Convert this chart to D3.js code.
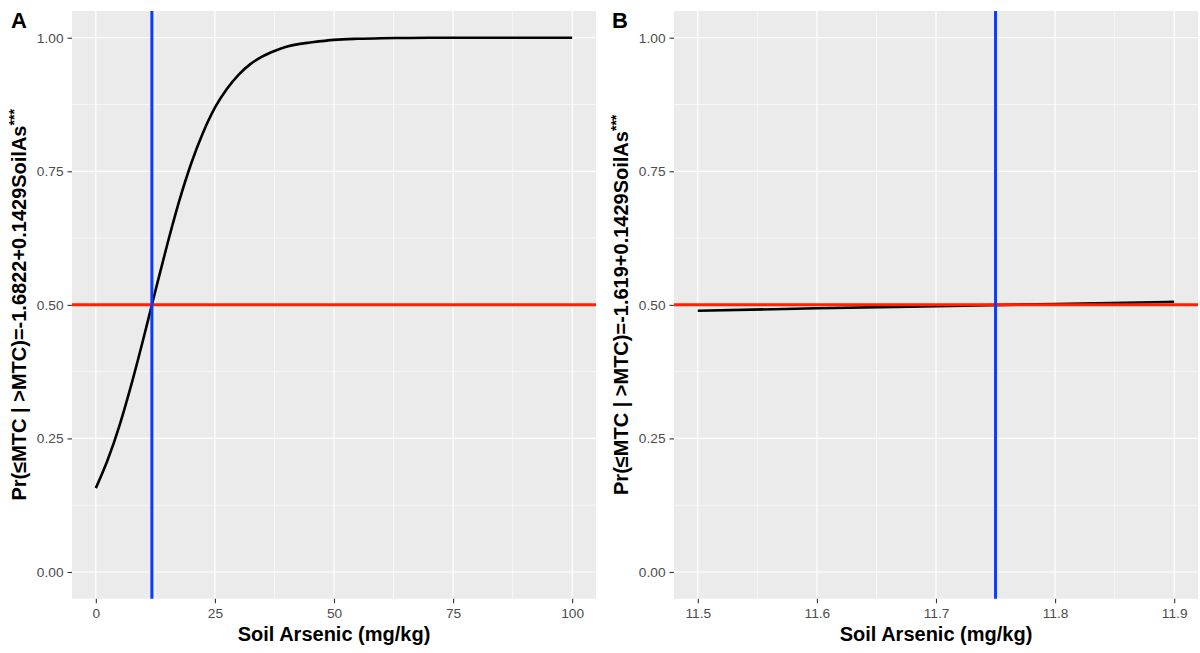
<!DOCTYPE html>
<html>
<head>
<meta charset="utf-8">
<script src="https://cdn.jsdelivr.net/npm/d3@7"></script>
<style>
  html, body { margin: 0; padding: 0; background: #fff; }
  svg { display: block; font-family: "Liberation Sans", Arial, Helvetica, sans-serif; }
</style>
</head>
<body>
<svg id="chart" width="1200" height="653"></svg>
<script>
// Panel A: fitted probability across the full soil arsenic range
const soilAsA = [0, 2.5, 5, 7.5, 10, 12.5, 15, 17.5, 20, 22.5, 25, 27.5, 30, 32.5, 35, 37.5, 40, 42.5, 45, 50, 55, 60, 65, 70, 80, 90, 100];
const probA   = [0.157, 0.210, 0.275, 0.352, 0.437, 0.526, 0.613, 0.694, 0.764, 0.822, 0.869, 0.904, 0.931, 0.951, 0.965, 0.975, 0.983, 0.988, 0.991, 0.996, 0.998, 0.999, 0.9995, 0.9998, 1.0, 1.0, 1.0];
// Panel B: fitted probability over a narrow range around the threshold
const soilAsB = [11.5, 11.6, 11.7, 11.8, 11.9];
const probB   = [0.489, 0.4935, 0.4976, 0.5017, 0.5057];

const thresholdA = 11.77;
const thresholdB = 11.75;
const refProb = 0.5;

const yTicks = [0, 0.25, 0.5, 0.75, 1];
const yTickLabels = ["0.00", "0.25", "0.50", "0.75", "1.00"];
const xTicksA = [0, 25, 50, 75, 100];
const xTicksB = [11.5, 11.6, 11.7, 11.8, 11.9];
const xTickLabelsB = ["11.5", "11.6", "11.7", "11.8", "11.9"];

const panels = [
  { tag: "A", xs: soilAsA, ys: probA, vline: thresholdA, xDomain: [0, 100], xExpand: 0.05,
    xTicks: xTicksA, xLabels: xTicksA.map(String), left: 72, right: 596,
    yTitle: "Pr(\u2264MTC | >MTC)=-1.6822+0.1429SoilAs", tagX: 11, titleX: 25.5 },
  { tag: "B", xs: soilAsB, ys: probB, vline: thresholdB, xDomain: [11.5, 11.9], xExpand: 0.05,
    xTicks: xTicksB, xLabels: xTickLabelsB, left: 674, right: 1198,
    yTitle: "Pr(\u2264MTC | >MTC)=-1.619+0.1429SoilAs", tagX: 612, titleX: 628 }
];

const svg = d3.select("#chart");
const plotTop = 11, plotBottom = 598.7;

panels.forEach(p => {
  const span = p.xDomain[1] - p.xDomain[0];
  const x = d3.scaleLinear()
    .domain([p.xDomain[0] - span * p.xExpand, p.xDomain[1] + span * p.xExpand])
    .range([p.left, p.right]);
  const y = d3.scaleLinear().domain([-0.05, 1.05]).range([plotBottom, plotTop]);

  const g = svg.append("g");

  // panel background
  g.append("rect")
    .attr("x", p.left).attr("y", plotTop)
    .attr("width", p.right - p.left).attr("height", plotBottom - plotTop)
    .attr("fill", "#ebebeb");

  // minor grid
  const xMinor = p.xTicks.slice(0, -1).map((t, i) => (t + p.xTicks[i + 1]) / 2);
  const yMinor = yTicks.slice(0, -1).map((t, i) => (t + yTicks[i + 1]) / 2);
  g.selectAll(".xminor").data(xMinor).enter().append("line")
    .attr("x1", d => x(d)).attr("x2", d => x(d))
    .attr("y1", plotTop).attr("y2", plotBottom)
    .attr("stroke", "#fff").attr("stroke-width", 0.6);
  g.selectAll(".yminor").data(yMinor).enter().append("line")
    .attr("x1", p.left).attr("x2", p.right)
    .attr("y1", d => y(d)).attr("y2", d => y(d))
    .attr("stroke", "#fff").attr("stroke-width", 0.6);

  // major grid
  g.selectAll(".xmajor").data(p.xTicks).enter().append("line")
    .attr("x1", d => x(d)).attr("x2", d => x(d))
    .attr("y1", plotTop).attr("y2", plotBottom)
    .attr("stroke", "#fff").attr("stroke-width", 1.2);
  g.selectAll(".ymajor").data(yTicks).enter().append("line")
    .attr("x1", p.left).attr("x2", p.right)
    .attr("y1", d => y(d)).attr("y2", d => y(d))
    .attr("stroke", "#fff").attr("stroke-width", 1.2);

  // fitted curve
  const pts = p.xs.map((v, i) => [v, p.ys[i]]);
  g.append("path")
    .datum(pts)
    .attr("fill", "none")
    .attr("stroke", "#000")
    .attr("stroke-width", 2.6)
    .attr("stroke-linecap", "butt")
    .attr("d", d3.line().x(d => x(d[0])).y(d => y(d[1])).curve(d3.curveMonotoneX));

  // reference lines
  g.append("line")
    .attr("x1", p.left).attr("x2", p.right)
    .attr("y1", y(refProb)).attr("y2", y(refProb))
    .attr("stroke", "#ff2200").attr("stroke-width", 3);
  g.append("line")
    .attr("x1", x(p.vline)).attr("x2", x(p.vline))
    .attr("y1", plotTop).attr("y2", plotBottom)
    .attr("stroke", "#0a3cff").attr("stroke-width", 3);

  // axes
  const yAxis = d3.axisLeft(y).tickValues(yTicks)
    .tickFormat((d, i) => yTickLabels[i]).tickSize(4.5).tickPadding(4);
  const ya = g.append("g").attr("transform", `translate(${p.left},0)`).call(yAxis);
  const xAxis = d3.axisBottom(x).tickValues(p.xTicks)
    .tickFormat((d, i) => p.xLabels[i]).tickSize(4.5).tickPadding(5.5);
  const xa = g.append("g").attr("transform", `translate(0,${plotBottom})`).call(xAxis);
  [ya, xa].forEach(a => {
    a.select(".domain").remove();
    a.selectAll(".tick line").attr("stroke", "#333").attr("stroke-width", 1.1);
    a.selectAll(".tick text").attr("fill", "#4d4d4d")
      .style("font-size", "13.7px")
      .style("font-family", "'Liberation Sans', Arial, sans-serif");
  });

  // axis titles
  g.append("text")
    .attr("x", (p.left + p.right) / 2).attr("y", 640.5)
    .attr("text-anchor", "middle")
    .style("font-size", "20px").style("font-weight", "bold")
    .text("Soil Arsenic (mg/kg)");

  const yt = g.append("text")
    .attr("transform", `translate(${p.titleX},${(plotTop + plotBottom) / 2}) rotate(-90)`)
    .attr("text-anchor", "middle")
    .style("font-size", "20px").style("font-weight", "bold");
  yt.append("tspan").text(p.yTitle);
  yt.append("tspan").attr("dy", -7).style("font-size", "14px").text("***");

  // panel tag
  g.append("text")
    .attr("x", p.tagX).attr("y", 28)
    .style("font-size", "22px").style("font-weight", "bold")
    .text(p.tag);
});
</script>
</body>
</html>
